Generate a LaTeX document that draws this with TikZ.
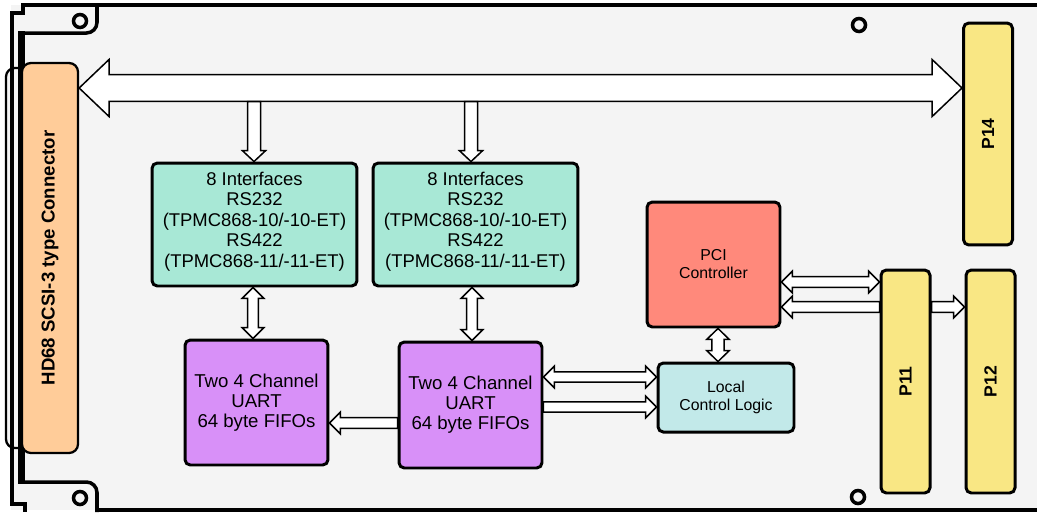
\documentclass[tikz,border=0pt]{standalone}
\usepackage{fontspec}
\setmainfont{Liberation Sans}
\usetikzlibrary{calc}
\definecolor{boardgray}{RGB}{244,244,244}
\definecolor{ifgreen}{RGB}{168,232,214}
\definecolor{uartpurple}{RGB}{216,144,248}
\definecolor{pcisalmon}{RGB}{255,137,123}
\definecolor{logiccyan}{RGB}{194,233,233}
\definecolor{pinyellow}{RGB}{249,231,132}
\definecolor{scsiorange}{RGB}{255,204,153}
\tikzstyle{block} = [rectangle, rounded corners=3pt, draw=black, line width=1.7pt, align=center, inner sep=2pt]
\tikzstyle{interface} = [block, fill=ifgreen, minimum width=4.1cm, minimum height=2.46cm, font=\fontsize{10.5}{11.7}\selectfont]
\tikzstyle{uart} = [block, fill=uartpurple, minimum width=2.86cm, minimum height=2.5cm, font=\fontsize{10.6}{11.4}\selectfont]
\tikzstyle{ctrl} = [block, font=\fontsize{9}{10.2}\selectfont]
\tikzstyle{pin} = [block, fill=pinyellow, minimum width=0.98cm, font=\bfseries\fontsize{10}{12}\selectfont]
\tikzstyle{hollow} = [draw=black, fill=white, line width=0.85pt, line join=miter]
\tikzstyle{edge} = [draw=black, line width=2pt]
\tikzstyle{hole} = [draw=black, fill=boardgray, line width=2pt]

% hollow arrow, one head: from, to, shaft half width, head half width, head length
\newcommand{\fatone}[5]{%
  \draw[hollow] let \p1=#1, \p2=#2, \n1={atan2(\y2-\y1,\x2-\x1)}, \n2={veclen(\x2-\x1,\y2-\y1)} in
    {[shift={(\p1)}, rotate=\n1]
      (0pt,-#3) -- (\n2*1pt-#5,-#3) -- (\n2*1pt-#5,-#4) -- (\n2*1pt,0pt)
      -- (\n2*1pt-#5,#4) -- (\n2*1pt-#5,#3) -- (0pt,#3) -- cycle};}
% hollow arrow, two heads
\newcommand{\fatboth}[5]{%
  \draw[hollow] let \p1=#1, \p2=#2, \n1={atan2(\y2-\y1,\x2-\x1)}, \n2={veclen(\x2-\x1,\y2-\y1)} in
    {[shift={(\p1)}, rotate=\n1]
      (0pt,0pt) -- (#5,-#4) -- (#5,-#3) -- (\n2*1pt-#5,-#3) -- (\n2*1pt-#5,-#4) -- (\n2*1pt,0pt)
      -- (\n2*1pt-#5,#4) -- (\n2*1pt-#5,#3) -- (#5,#3) -- (#5,#4) -- cycle};}

\begin{document}
\begin{tikzpicture}[x=0.02cm, y=-0.02cm]
    \useasboundingbox (0,0) rectangle (1037,512);

    % Board
    \fill[boardgray] (11,5) rectangle (1037,510);
    \draw[line width=1.3pt, fill=boardgray, rounded corners=5pt] (6,68) rectangle (30,448);
    \draw[edge] (1037,5) -- (23,5) -- (23,13) -- (12,13) -- (12,504) -- (25,504) -- (25,512);
    \draw[edge] (97,510) -- (1037,510);
    \draw[edge, rounded corners=6pt] (97,5) -- (97,33) -- (21.5,33);
    \draw[line width=4pt] (21.5,31) -- (21.5,484);
    \draw[edge, rounded corners=6pt] (21.5,482) -- (97,482) -- (97,512);
    \draw[hole] (80,21) circle (0.13cm);
    \draw[hole] (80,498) circle (0.13cm);
    \draw[hole] (859,25) circle (0.13cm);
    \draw[hole] (858,497) circle (0.13cm);

    % Connectors
    \node[block, fill=scsiorange, minimum width=1.12cm, minimum height=7.8cm, rounded corners=5pt, line width=1.3pt] (conn) at (50,258)
        {\rotatebox{90}{\bfseries\fontsize{10.6}{12}\selectfont HD68 SCSI-3 type Connector}};
    \node[pin, minimum height=4.44cm] (p14) at (988,134) {\rotatebox{90}{P14}};
    \node[pin, minimum height=4.46cm] (p11) at (905.5,381.5) {\rotatebox{90}{P11}};
    \node[pin, minimum height=4.46cm] (p12) at (990.5,381.5) {\rotatebox{90}{P12}};

    % Interfaces
    \node[interface] (if1) at (254.5,224.5) {8 Interfaces\\RS232\\(TPMC868-10/-10-ET)\\RS422\\(TPMC868-11/-11-ET)\\[-0.21cm]};
    \node[interface] (if2) at (475.5,224.5) {8 Interfaces\\RS232\\(TPMC868-10/-10-ET)\\RS422\\(TPMC868-11/-11-ET)\\[-0.21cm]};

    % UARTs
    \node[uart] (uart1) at (256.5,402.5) {Two 4 Channel\\UART\\64 byte FIFOs};
    \node[uart, minimum height=2.52cm] (uart2) at (470.5,405) {Two 4 Channel\\UART\\64 byte FIFOs};

    % PCI and local logic
    \node[ctrl, fill=pcisalmon, minimum width=2.66cm, minimum height=2.5cm] (pci) at (713.5,264.5) {PCI\\Controller};
    \node[ctrl, fill=logiccyan, minimum width=2.72cm, minimum height=1.38cm] (lcl) at (726,397.5) {Local\\Control Logic};

    % Bus
    \fatboth{(conn.east |- 0,88)}{(p14.west |- 0,88)}{7.6pt}{16.2pt}{17pt}
    \coordinate (tap1) at (254,101.5);
    \coordinate (tap2) at (471,101.5);
    \fatone{(tap1)}{(tap1 |- if1.north)}{3.7pt}{6.6pt}{6.2pt}
    \fatone{(tap2)}{(tap2 |- if2.north)}{3.7pt}{6.6pt}{6.2pt}

    % Arrows
    \fatboth{(if1.south -| 253,0)}{(uart1.north -| 253,0)}{3pt}{6.2pt}{6.2pt}
    \fatboth{(if2.south -| 472,0)}{(uart2.north -| 472,0)}{3pt}{6.2pt}{6.2pt}
    \fatone{(uart2.west |- 0,423)}{(uart1.east |- 0,423)}{3pt}{6.2pt}{6.2pt}
    \fatboth{(uart2.east |- 0,377)}{(lcl.west |- 0,377)}{2.9pt}{6.2pt}{6.2pt}
    \fatone{(uart2.east |- 0,407)}{(lcl.west |- 0,407)}{2.9pt}{6.2pt}{6.2pt}
    \fatboth{(pci.south -| 718,0)}{(lcl.north -| 718,0)}{3.5pt}{6.4pt}{6.2pt}
    \fatboth{(pci.east |- 0,282)}{(p11.west |- 0,282)}{3pt}{6.2pt}{6.2pt}
    \fatone{(p11.west |- 0,307)}{(pci.east |- 0,307)}{3pt}{6.2pt}{6.2pt}
    \fatone{(p11.east |- 0,307)}{(p12.west |- 0,307)}{3pt}{6.2pt}{6.2pt}
\end{tikzpicture}
\end{document}
